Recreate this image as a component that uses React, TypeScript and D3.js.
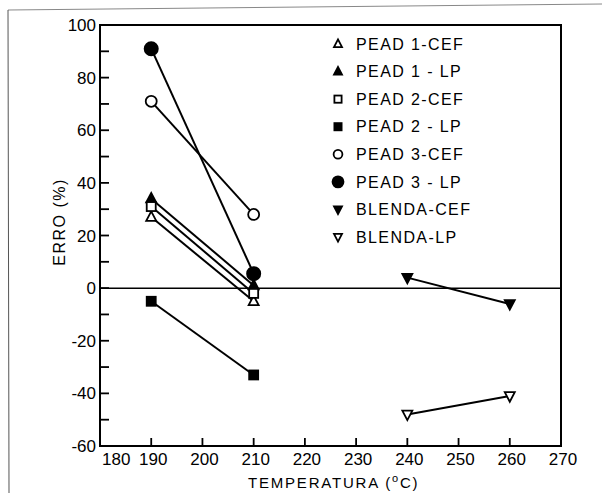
import React from "react";
import * as d3 from "d3";

const temps190 = [190, 210];
const temps240 = [240, 260];
const seriesNames = [
  "PEAD 1-CEF",
  "PEAD 1 - LP",
  "PEAD 2-CEF",
  "PEAD 2 - LP",
  "PEAD 3-CEF",
  "PEAD 3 - LP",
  "BLENDA-CEF",
  "BLENDA-LP",
];
const pead1Cef = [27, -5];
const pead1Lp = [34, 1];
const pead2Cef = [31, -2];
const pead2Lp = [-5, -33];
const pead3Cef = [71, 28];
const pead3Lp = [91, 5.5];
const blendaCef = [4, -6];
const blendaLp = [-48, -41];
const xTicks = [180, 190, 200, 210, 220, 230, 240, 250, 260, 270];
const yTicksMajor = [-60, -40, -20, 0, 20, 40, 60, 80, 100];
const yTicksMinor = [-50, -30, -10, 10, 30, 50, 70, 90];

type Sym = "triUp" | "triDown" | "square" | "circle";
const series = [
  { name: seriesNames[0], xs: temps190, ys: pead1Cef, sym: "triUp" as Sym, fill: false },
  { name: seriesNames[1], xs: temps190, ys: pead1Lp, sym: "triUp" as Sym, fill: true },
  { name: seriesNames[2], xs: temps190, ys: pead2Cef, sym: "square" as Sym, fill: false },
  { name: seriesNames[3], xs: temps190, ys: pead2Lp, sym: "square" as Sym, fill: true },
  { name: seriesNames[4], xs: temps190, ys: pead3Cef, sym: "circle" as Sym, fill: false },
  { name: seriesNames[5], xs: temps190, ys: pead3Lp, sym: "circle" as Sym, fill: true },
  { name: seriesNames[6], xs: temps240, ys: blendaCef, sym: "triDown" as Sym, fill: true },
  { name: seriesNames[7], xs: temps240, ys: blendaLp, sym: "triDown" as Sym, fill: false },
];

function Marker({ x, y, sym, fill, s }: { x: number; y: number; sym: Sym; fill: boolean; s: number }) {
  const common = { fill: fill ? "#000" : "#fff", stroke: "#000", strokeWidth: 1.8 };
  if (sym === "circle") return <circle cx={x} cy={y} r={s * 0.55} {...common} />;
  if (sym === "square")
    return <rect x={x - s * 0.45} y={y - s * 0.45} width={s * 0.9} height={s * 0.9} {...common} />;
  const h = s * 0.95;
  const w = s * 0.5;
  if (sym === "triUp")
    return <path d={`M${x},${y - h * 0.6}L${x + w},${y + h * 0.4}L${x - w},${y + h * 0.4}Z`} {...common} />;
  return <path d={`M${x},${y + h * 0.6}L${x + w},${y - h * 0.4}L${x - w},${y - h * 0.4}Z`} {...common} />;
}

export default function App() {
  const W = 610;
  const H = 493;
  const x = d3.scaleLinear().domain([180, 270]).range([100, 561]);
  const y = d3.scaleLinear().domain([-60, 100]).range([446, 25]);
  const font = "'Liberation Sans', Arial, sans-serif";
  const line = d3
    .line<[number, number]>()
    .x((d) => x(d[0]))
    .y((d) => y(d[1]));
  const legendY = d3.scaleLinear().domain([0, 7]).range([44, 237]);

  return (
    <svg
      width={W}
      height={H}
      style={{ position: "absolute", left: 0, top: 0, background: "#fff" }}
    >
      {/* scan frame */}
      <line x1={8} y1={10} x2={602} y2={4} stroke="#888" strokeWidth={1} />
      <line x1={8} y1={10} x2={9} y2={493} stroke="#555" strokeWidth={1} />

      {/* plot frame */}
      <rect x={x(180)} y={y(100)} width={x(270) - x(180)} height={y(-60) - y(100)} fill="none" stroke="#000" strokeWidth={2} />
      {/* zero line */}
      <line x1={x(180)} x2={x(270)} y1={y(0)} y2={y(0)} stroke="#000" strokeWidth={1.5} />

      {/* y ticks */}
      {yTicksMajor.concat(yTicksMinor).map((t) => (
        <line key={"yt" + t} x1={x(180)} x2={x(180) + 9} y1={y(t)} y2={y(t)} stroke="#000" strokeWidth={1.8} />
      ))}
      {yTicksMajor.map((t) => (
        <text key={"yl" + t} x={x(180) - 4} y={y(t)} dy="0.36em" textAnchor="end" fontFamily={font} fontSize={17}>
          {t}
        </text>
      ))}
      {/* x ticks */}
      {xTicks.map((t) => (
        <line key={"xt" + t} x1={x(t)} x2={x(t)} y1={y(-60)} y2={y(-60) - 8} stroke="#000" strokeWidth={1.8} />
      ))}
      {xTicks.map((t, i) => (
        <text
          key={"xl" + t}
          x={i === 0 ? x(t) + 2 : x(t) + 2}
          y={y(-60) + 19}
          textAnchor={i === 0 ? "start" : "middle"}
          fontFamily={font}
          fontSize={17}
        >
          {t}
        </text>
      ))}

      {/* axis titles */}
      <text x={248} y={488} fontFamily={font} fontSize={15} letterSpacing={1.8}>
        TEMPERATURA (<tspan dy={-6} fontSize={11}>o</tspan><tspan dy={6}>C)</tspan>
      </text>
      <text
        transform={`translate(65,222) rotate(-90)`}
        textAnchor="middle"
        fontFamily={font}
        fontSize={16}
        letterSpacing={1.5}
      >
        ERRO (%)
      </text>

      {/* series */}
      {series.map((s, i) => (
        <g key={"s" + i}>
          <path
            d={line(s.xs.map((v, j) => [v, s.ys[j]] as [number, number])) || ""}
            fill="none"
            stroke="#000"
            strokeWidth={2}
          />
          {s.xs.map((v, j) => (
            <Marker key={j} x={x(v)} y={y(s.ys[j])} sym={s.sym} fill={s.fill} s={s.sym === "circle" && s.fill ? 12 : 10} />
          ))}
        </g>
      ))}

      {/* legend */}
      {series.map((s, i) => (
        <g key={"lg" + i}>
          <Marker x={338} y={legendY(i)} sym={s.sym} fill={s.fill} s={s.sym === "circle" && s.fill ? 10 : 8} />
          <text x={356} y={legendY(i)} dy="0.36em" fontFamily={font} fontSize={16} letterSpacing={1.4}>
            {s.name}
          </text>
        </g>
      ))}
    </svg>
  );
}
